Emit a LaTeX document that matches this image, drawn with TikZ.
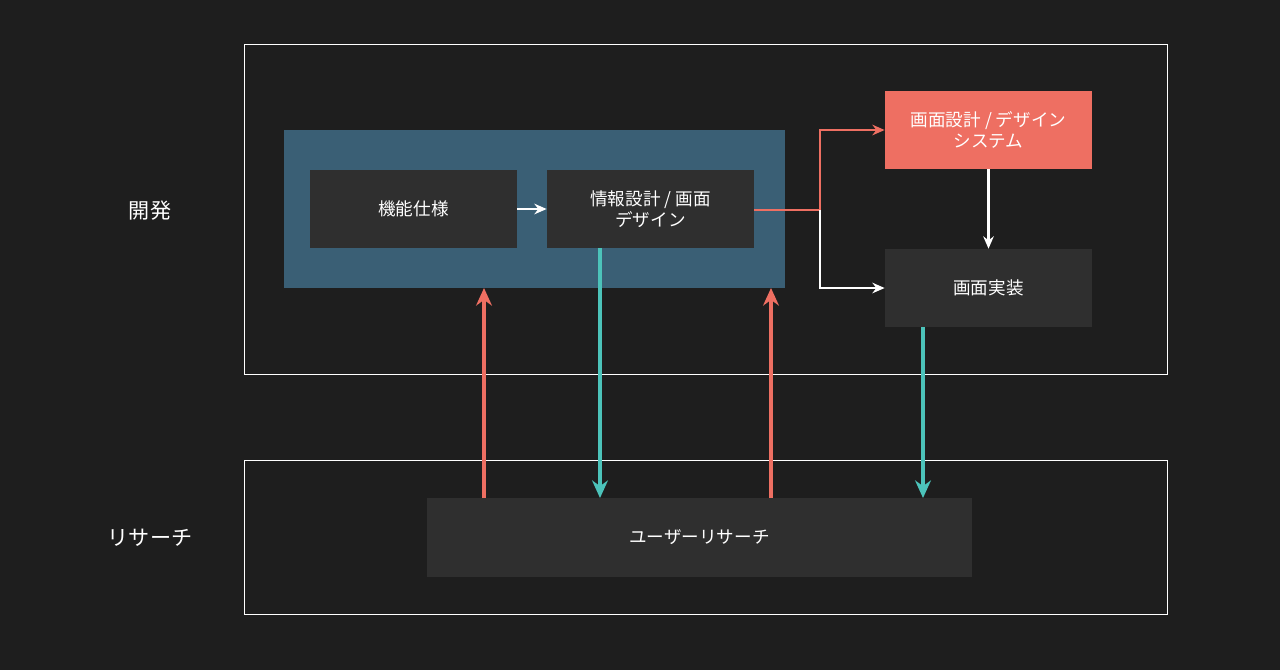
\documentclass[tikz,border=0pt]{standalone}
\usepackage{fontspec}
\setmainfont{Noto Sans CJK JP}
\usetikzlibrary{positioning,arrows.meta}
\definecolor{bgdark}{HTML}{1E1E1E}
\definecolor{boxgray}{HTML}{2F2F2F}
\definecolor{groupblue}{HTML}{3A5F75}
\definecolor{salmon}{HTML}{EE6F62}
\definecolor{teal}{HTML}{4CC3BA}
\tikzset{
  task/.style={fill=boxgray,text=white,minimum width=207\pxu,minimum height=78\pxu,align=center,font=\normalsize,inner sep=0pt},
  frame/.style={draw=white,line width=0.5pt},
  flow/.style={-{Stealth[length=7pt,width=6pt]},line width=1.3pt},
  bigflow/.style={-{Stealth[length=10pt,width=9pt]},line width=2.2pt}
}
\newlength{\pxu}\setlength{\pxu}{0.02cm}
\begin{document}
\begin{tikzpicture}[x=0.02cm,y=-0.02cm]
    \fill[bgdark] (0,0) rectangle (1280,670);
    \draw[frame] (244,44) rectangle (1167,374);
    \draw[frame] (244,460) rectangle (1167,614);
    \node[text=white,font=\large] (lbldev) at (150,211) {開発};
    \node[text=white,font=\large] (lblres) at (150,538) {リサーチ};

    \fill[groupblue] (284,130) rectangle (785,288);
    \node[task] (spec) at (413.5,209) {機能仕様};
    \node[task] (info) at (650.5,209) {情報設計 / 画面\\デザイン};
    \node[task,fill=salmon] (uisys) at (988.5,130) {画面設計 / デザイン\\システム};
    \node[task] (impl) at (988.5,288) {画面実装};
    \node[task,minimum width=545\pxu,minimum height=79\pxu] (research) at (699.5,537.5) {ユーザーリサーチ};

    \coordinate (fork) at (820,210);
    \draw[flow,white] (spec) -- (info);
    \draw[line width=1.3pt,salmon] (info.east |- fork) -- (fork);
    \draw[flow,salmon] (fork) |- (uisys.west);
    \draw[flow,white] (fork) |- (impl.west);
    \draw[flow,white] (uisys) -- (impl);

    % research <-> dev
    \draw[bigflow,salmon] (484,498) -- (484,288);
    \draw[bigflow,salmon] (771,498) -- (771,288);
    \draw[bigflow,teal] (600,248) -- (600,498);
    \draw[bigflow,teal] (923,327) -- (923,498);
\end{tikzpicture}
\end{document}
